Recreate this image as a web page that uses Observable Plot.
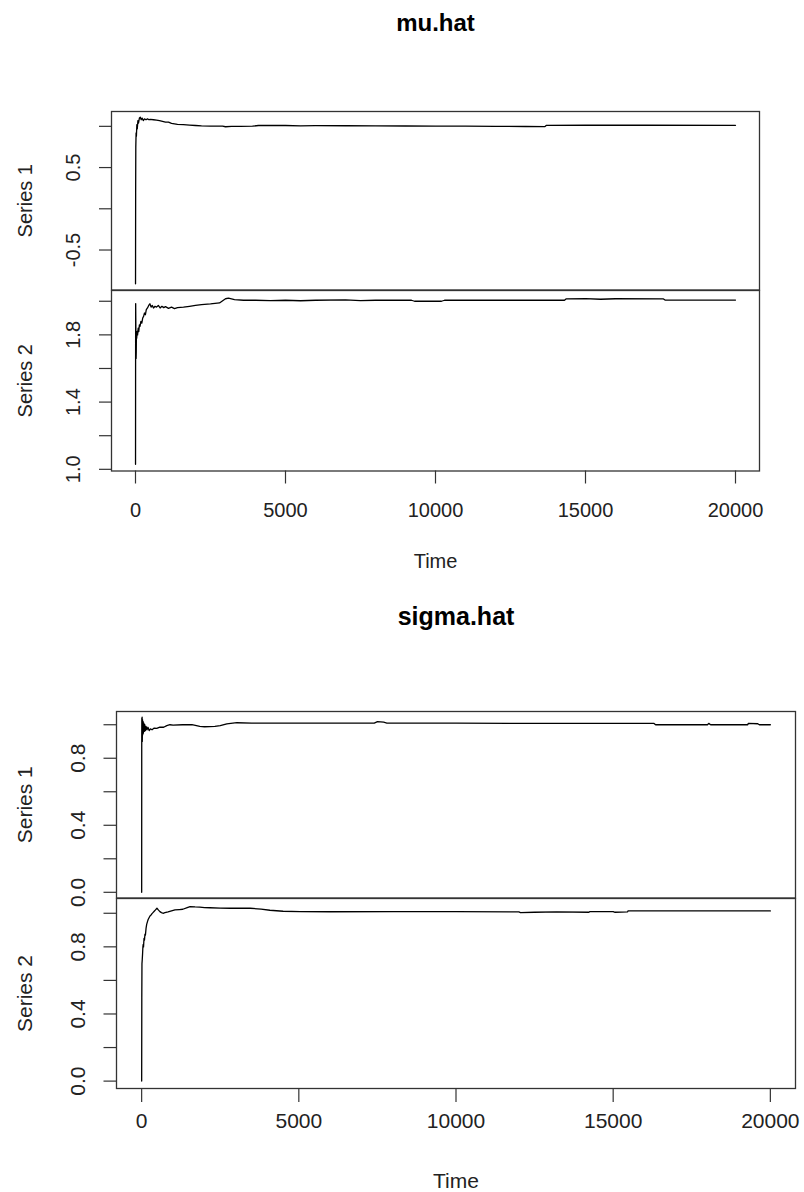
<!DOCTYPE html>
<html>
<head>
<meta charset="utf-8">
<script src="https://cdn.jsdelivr.net/npm/d3@7"></script>
<script src="https://cdn.jsdelivr.net/npm/@observablehq/plot@0.6"></script>
<style>
  html, body { margin: 0; padding: 0; background: #fff; }
  #root { position: relative; width: 804px; height: 1192px; overflow: hidden; }
  #root > svg { position: absolute; left: 0; }
</style>
</head>
<body>
<div id="root"></div>
<script>
// ---------- data ----------
const titles = ["mu.hat", "sigma.hat"];
const seriesNames = ["Series 1", "Series 2"];
const xTicks = [0, 5000, 10000, 15000, 20000];
const xTickLabels = ["0", "5000", "10000", "15000", "20000"];

// mu.hat, Series 1
const muS1Time  = [1,5,10,20,30,45,60,80,100,130,160,190,220,260,300,350,400,450,500,600,700,800,900,1000,1100,1200,1400,1600,1800,2000,2200,2500,2900,3000,3200,3500,3900,4100,4500,5000,5500,6000,7000,8000,9000,10000,11000,12000,13000,13650,13700,15000,17000,20000];
const muS1Value = [-0.91,0.2,0.75,0.92,0.88,1.02,0.97,1.07,1.04,1.10,1.11,1.08,1.10,1.07,1.09,1.08,1.09,1.08,1.085,1.08,1.075,1.07,1.06,1.05,1.05,1.035,1.025,1.02,1.015,1.01,1.005,1.003,1.003,0.995,1.0,1.0,1.002,1.01,1.012,1.01,1.005,1.008,1.007,1.005,1.004,1.003,1.002,1.0,0.998,0.997,1.012,1.013,1.013,1.012];
const muS1Ticks = [-0.5, 0, 0.5, 1.0];
const muS1Labels = ["-0.5", "0.5"];
const muS1LabelVals = [-0.5, 0.5];

// mu.hat, Series 2
const muS2Time  = [1,3,6,10,15,20,25,30,40,55,70,90,110,130,150,180,210,240,270,300,330,360,400,440,480,520,560,600,650,700,760,820,880,940,1000,1100,1200,1300,1400,1600,1800,2000,2200,2500,2800,3000,3100,3300,3600,4000,4500,5000,5500,6000,7000,7500,8000,9200,9300,10200,10300,12000,14300,14350,15000,15500,16000,17600,17650,20000];
const muS2Value = [1.03,1.6,1.986,1.9,1.75,1.66,1.70,1.80,1.78,1.82,1.80,1.84,1.82,1.86,1.85,1.88,1.87,1.90,1.91,1.93,1.92,1.95,1.96,1.975,1.985,1.965,1.975,1.96,1.97,1.965,1.975,1.96,1.97,1.962,1.968,1.958,1.965,1.956,1.962,1.965,1.97,1.975,1.98,1.984,1.99,2.015,2.018,2.01,2.006,2.006,2.004,2.006,2.003,2.006,2.008,2.004,2.006,2.006,2.0,2.0,2.006,2.006,2.006,2.014,2.016,2.012,2.015,2.014,2.007,2.007];
const muS2Ticks = [1.0, 1.2, 1.4, 1.6, 1.8, 2.0];
const muS2Labels = ["1.0", "1.4", "1.8"];
const muS2LabelVals = [1.0, 1.4, 1.8];

// sigma.hat, Series 1
const sgS1Time  = [1,3,6,10,15,20,28,35,45,55,70,85,100,120,140,170,200,240,280,330,400,480,580,700,800,900,1000,1300,1600,1850,2000,2330,2500,2710,3030,3500,4000,5000,6000,7400,7500,7700,7800,10000,12000,14000,16300,16350,18000,18040,18100,19280,19300,19600,19650,20000];
const sgS1Value = [0.0,0.9,1.04,0.92,1.045,0.90,1.03,0.94,1.02,0.95,1.01,0.96,1.0,0.965,0.99,0.97,0.985,0.965,0.975,0.97,0.98,0.978,0.986,0.985,0.995,1.0,0.998,1.0,1.0,0.99,0.988,0.99,0.995,1.005,1.012,1.01,1.01,1.01,1.01,1.01,1.018,1.015,1.01,1.01,1.008,1.008,1.008,1.0,1.0,1.008,1.0,1.0,1.008,1.006,1.0,1.0];
const sgS1Ticks = [0, 0.2, 0.4, 0.6, 0.8, 1.0];
const sgS1Labels = ["0.0", "0.4", "0.8"];
const sgS1LabelVals = [0, 0.4, 0.8];

// sigma.hat, Series 2
const sgS2Time  = [1,5,10,20,30,40,50,60,75,90,105,120,140,160,185,210,240,265,300,330,360,400,440,487,530,580,630,680,740,840,950,1060,1200,1310,1450,1540,1700,1850,2000,2170,2500,2810,3200,3450,3800,4080,4500,5040,6000,8000,10000,12000,12050,12500,13200,14230,14260,15000,15060,15460,15470,18000,20000];
const sgS2Value = [0.0,0.5,0.70,0.726,0.76,0.80,0.815,0.80,0.85,0.84,0.875,0.87,0.91,0.934,0.95,0.964,0.975,0.984,0.99,0.998,1.004,1.012,1.02,1.03,1.02,1.01,1.004,1.0,1.004,1.008,1.014,1.02,1.022,1.024,1.034,1.04,1.038,1.037,1.034,1.033,1.031,1.03,1.03,1.03,1.025,1.018,1.012,1.01,1.009,1.01,1.01,1.008,1.004,1.006,1.008,1.006,1.01,1.01,1.006,1.008,1.014,1.014,1.014];
const sgS2Ticks = [0, 0.2, 0.4, 0.6, 0.8, 1.0];
const sgS2Labels = ["0.0", "0.4", "0.8"];
const sgS2LabelVals = [0, 0.4, 0.8];

// ---------- drawing ----------
const W = 804;
const FONT = "'Liberation Sans', Arial, Helvetica, sans-serif";
const INK = "#222";
const root = document.getElementById("root");
const zip = (t, v) => t.map((d, i) => ({t: d, v: v[i]}));

function panel(o) {
  const marks = [
    Plot.axisY({ticks: o.yTicks, tickSize: o.tickLen, tickFormat: () => "", label: null, stroke: "#333", strokeWidth: 1.2}),
    Plot.text(o.labelVals.map((v, i) => ({v, s: o.labels[i]})), {
      y: "v", text: "s", frameAnchor: "left", rotate: -90, dx: o.labDx,
      textAnchor: "middle", lineAnchor: "middle", fontSize: o.fs, fill: INK
    }),
    Plot.text([o.series], {text: d => d, frameAnchor: "left", rotate: -90, dx: o.serDx,
      textAnchor: "middle", lineAnchor: "middle", fontSize: o.fs, fill: INK}),
    Plot.line(o.data, {x: "t", y: "v", stroke: "#000", strokeWidth: 1.3}),
    Plot.frame({stroke: "#333", strokeWidth: 1.3})
  ];
  if (o.title) {
    marks.push(Plot.text([o.title], {text: d => d, frameAnchor: "top", dy: o.titleDy, lineAnchor: "bottom",
      fontSize: o.titleFs, fontWeight: "bold", fill: "#000"}));
  }
  if (o.xaxis) {
    marks.push(Plot.axisX({ticks: xTicks, tickSize: o.xTickLen, tickPadding: o.xPad,
      tickFormat: d => xTickLabels[xTicks.indexOf(d)], label: null, fontSize: o.fs,
      color: INK, stroke: "#333", strokeWidth: 1.2}));
    marks.push(Plot.text(["Time"], {text: d => d, frameAnchor: "bottom", dy: o.timeDy, lineAnchor: "bottom",
      fontSize: o.fs, fill: INK}));
  }
  const svg = Plot.plot({
    width: W,
    height: o.mt + (o.boxBottom - o.boxTop) + o.mb,
    marginLeft: o.boxLeft, marginRight: W - o.boxRight,
    marginTop: o.mt, marginBottom: o.mb,
    x: {domain: [-800, 20800], axis: null},
    y: {domain: o.yDomain},
    style: {fontFamily: FONT, fontSize: o.fs + "px", background: "transparent", overflow: "visible", color: INK},
    marks
  });
  svg.style.top = (o.boxTop - o.mt) + "px";
  root.appendChild(svg);
}

// mu.hat
panel({boxLeft: 111, boxRight: 759, boxTop: 111, boxBottom: 289.5, mt: 111, mb: 5,
  yDomain: [-0.985, 1.18], yTicks: muS1Ticks, labels: muS1Labels, labelVals: muS1LabelVals,
  series: seriesNames[0], data: zip(muS1Time, muS1Value), fs: 20, tickLen: 12, labDx: -37.5, serDx: -86,
  title: titles[0], titleDy: -81, titleFs: 24});
panel({boxLeft: 111, boxRight: 759, boxTop: 289.5, boxBottom: 470, mt: 5, mb: 115,
  yDomain: [0.99, 2.064], yTicks: muS2Ticks, labels: muS2Labels, labelVals: muS2LabelVals,
  series: seriesNames[1], data: zip(muS2Time, muS2Value), fs: 20, tickLen: 12, labDx: -37.5, serDx: -86,
  xaxis: true, xTickLen: 13, xPad: 18.5, timeDy: 96.5});

// sigma.hat
panel({boxLeft: 116, boxRight: 795, boxTop: 711, boxBottom: 897.5, mt: 131, mb: 5,
  yDomain: [-0.034, 1.079], yTicks: sgS1Ticks, labels: sgS1Labels, labelVals: sgS1LabelVals,
  series: seriesNames[0], data: zip(sgS1Time, sgS1Value), fs: 21, tickLen: 12.5, labDx: -38, serDx: -91,
  title: titles[1], titleDy: -87, titleFs: 25});
panel({boxLeft: 116, boxRight: 795, boxTop: 897.5, boxBottom: 1087.5, mt: 5, mb: 104,
  yDomain: [-0.044, 1.088], yTicks: sgS2Ticks, labels: sgS2Labels, labelVals: sgS2LabelVals,
  series: seriesNames[1], data: zip(sgS2Time, sgS2Value), fs: 21, tickLen: 12.5, labDx: -38, serDx: -91,
  xaxis: true, xTickLen: 14, xPad: 10.5, timeDy: 99});
</script>
</body>
</html>
